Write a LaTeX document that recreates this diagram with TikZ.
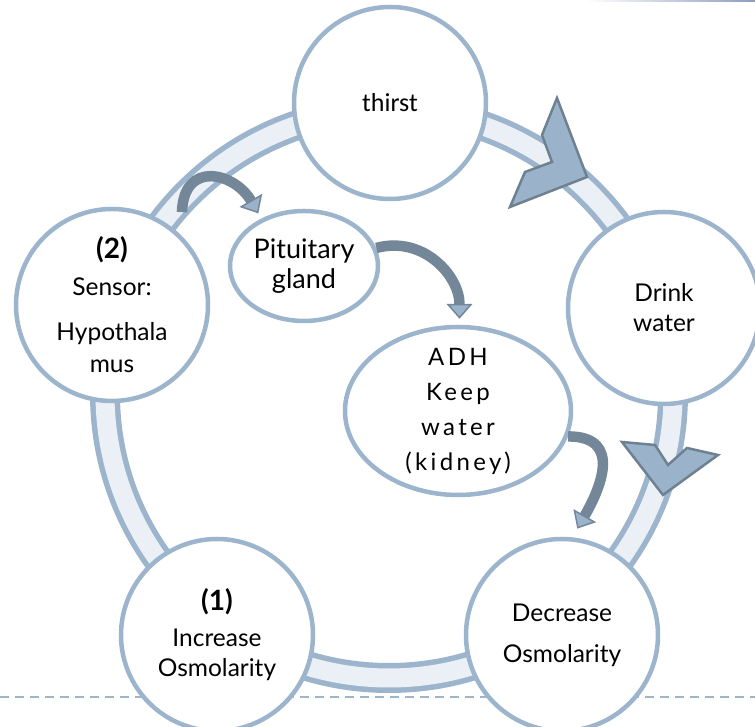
\documentclass[tikz,border=0pt]{standalone}
\usepackage{fontspec}
\setmainfont{Lato}
\newfontfamily\thirstfont{Carlito}
\newfontfamily\adhfont[LetterSpace=14]{Lato}
\usepackage{tikz}
\usetikzlibrary{arrows.meta, shapes.geometric}
\definecolor{RingEdge}{HTML}{9DB5CC}
\definecolor{RingFill}{HTML}{EAF0F5}
\definecolor{ChevronFill}{HTML}{9BB3CA}
\definecolor{ChevronEdge}{HTML}{6E8191}
\definecolor{ArrowDark}{HTML}{738799}
\definecolor{TopLine}{HTML}{8E9CC0}
\newcommand{\stepno}[1]{{\fontsize{28}{30}\selectfont\bfseries #1}}

\begin{document}
\begin{tikzpicture}[x=1pt, y=1pt,
  cycle_node/.style={circle, draw=RingEdge, fill=white, line width=4.5pt, minimum size=192pt, inner sep=0pt, align=center, font=\fontsize{24.5}{30}\selectfont},
  inner_node/.style={ellipse, draw=RingEdge, fill=white, line width=4.5pt, inner sep=0pt, align=center},
  chevron_mark/.style={fill=ChevronFill, draw=ChevronEdge, line width=2.5pt, line join=miter},
  bend_arrow/.style={draw=ArrowDark, line width=10.5pt, shorten >=6pt, -{Triangle[length=15pt, width=26pt, line width=1.5pt, fill=ChevronFill]}},
]
  \useasboundingbox (0,0) rectangle (755,727);
  % page rules
  \draw[RingEdge, line width=2pt, dash pattern=on 9pt off 6pt] (0,30) -- (755,30);
  \shade[left color=white, right color=TopLine] (585,725.5) rectangle (755,727);
  % the cycle band
  \coordinate (ring) at (389,333);
  \draw[RingEdge, line width=30pt] (ring) circle (284);
  \draw[RingFill, line width=19pt] (ring) circle (284);
  \draw[chevron_mark] (557,629) -- (587,550) -- (510,520) -- (525,555) -- (552,565) -- (542,592) -- cycle;
  \draw[chevron_mark] (622,285) -- (655,282) -- (668,262) -- (687,279) -- (718,272) -- (663,232) -- cycle;
  % cycle steps
  \node[cycle_node] (thirst) at (390,624) {\thirstfont\fontsize{26}{30}\selectfont thirst};
  \node[cycle_node] (drink) at (664,419) {Drink\\water};
  \node[cycle_node] (decrease) at (562,92) {Decrease\\[11pt]Osmolarity};
  \node[cycle_node] (increase) at (217,92) {\stepno{(1)}\\[6pt]Increase\\Osmolarity};
  \node[cycle_node] (sensor) at (112,422) {\stepno{(2)}\\[7pt]Sensor:\\[15pt]Hypothala\\[2pt]mus};
  % hormone path
  \node[inner_node, minimum width=148pt, minimum height=110pt, font=\fontsize{27}{30}\selectfont] (pituitary) at (304,461) {Pituitary\\gland};
  \node[inner_node, minimum width=226pt, minimum height=168pt, inner ysep=-12pt, font=\adhfont\fontsize{24}{35}\selectfont] (adh) at (458,316) {ADH\\Keep\\water\\(kidney)};
  \draw[bend_arrow] ([shift={(53:18)}]sensor.53) to[out=88, in=120, looseness=1.7] (pituitary.132);
  \draw[bend_arrow] (pituitary.14) to[out=15, in=90, looseness=1.1] (adh.89);
  \draw[bend_arrow, shorten >=10pt] (adh.-13) to[out=0, in=60, looseness=1.4] (decrease.84);
\end{tikzpicture}
\end{document}
